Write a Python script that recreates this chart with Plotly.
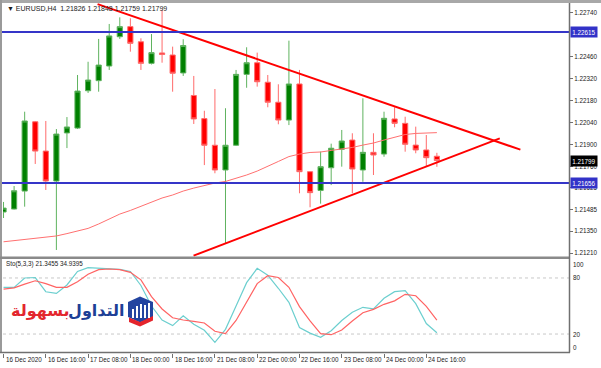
import plotly.graph_objects as go

# ---------------- data ----------------
bar_index = list(range(42))
open_ = [1.21472, 1.21491, 1.21605, 1.22045, 1.21859, 1.21669, 1.21974, 1.22005, 1.22242, 1.22306,
         1.22399, 1.22585, 1.22649, 1.22553, 1.22416, 1.22482, 1.22469, 1.22355, 1.22212, 1.22065,
         1.21896, 1.21739, 1.21896, 1.22346, 1.22420, 1.22296, 1.22169, 1.22056, 1.22285, 1.21728,
         1.21609, 1.21753, 1.21870, 1.21929, 1.21739, 1.21851, 1.21840, 1.22063, 1.22035, 1.21897,
         1.21866, 1.21826]
high = [1.21536, 1.21637, 1.22109, 1.22050, 1.22050, 1.21999, 1.22075, 1.22342, 1.22426, 1.22571,
        1.22666, 1.22708, 1.22702, 1.22575, 1.22602, 1.22755, 1.22522, 1.22569, 1.22336, 1.22115,
        1.22253, 1.22131, 1.22374, 1.22518, 1.22484, 1.22342, 1.22283, 1.22560, 1.22374, 1.21730,
        1.21856, 1.21906, 1.21993, 1.21972, 1.22194, 1.21972, 1.22109, 1.22137, 1.22077, 1.22014,
        1.21961, 1.21848]
low = [1.21434, 1.21488, 1.21506, 1.21777, 1.21612, 1.21231, 1.21878, 1.21999, 1.22228, 1.22236,
       1.22374, 1.22571, 1.22490, 1.22374, 1.22409, 1.22420, 1.22236, 1.22336, 1.22031, 1.21770,
       1.21718, 1.21275, 1.21891, 1.22261, 1.22268, 1.22137, 1.22029, 1.22024, 1.21591, 1.21502,
       1.21525, 1.21643, 1.21760, 1.21591, 1.21664, 1.21707, 1.21823, 1.22010, 1.21855, 1.21845,
       1.21764, 1.21759]
close = [1.21497, 1.21607, 1.22050, 1.21859, 1.21669, 1.21967, 1.22012, 1.22240, 1.22310, 1.22405,
         1.22590, 1.22649, 1.22543, 1.22416, 1.22484, 1.22472, 1.22353, 1.22529, 1.22063, 1.21896,
         1.21739, 1.21896, 1.22346, 1.22420, 1.22299, 1.22169, 1.22056, 1.22285, 1.21728, 1.21595,
         1.21760, 1.21877, 1.21923, 1.21745, 1.21851, 1.21834, 1.22067, 1.22035, 1.21902, 1.21866,
         1.21817, 1.21799]
moving_avg = [1.21283, 1.21291, 1.21297, 1.21306, 1.21312, 1.21320, 1.21335, 1.21351, 1.21368, 1.21396,
              1.21428, 1.21459, 1.21482, 1.21507, 1.21536, 1.21561, 1.21580, 1.21605, 1.21624, 1.21640,
              1.21656, 1.21666, 1.21685, 1.21707, 1.21732, 1.21760, 1.21793, 1.21824, 1.21840, 1.21850,
              1.21853, 1.21863, 1.21872, 1.21882, 1.21897, 1.21910, 1.21929, 1.21948, 1.21964, 1.21971,
              1.21974, 1.21976]
sto_main = [70, 70, 80, 80.5, 65.3, 63.5, 72.5, 87, 91, 90.5,
            90, 89.3, 87, 72, 50, 35, 29, 39.5, 30.5, 24,
            11, 25, 50, 75, 90.4, 83, 69, 54, 27, 21,
            16.5, 23.5, 34.5, 43.3, 48.6, 47, 58.3, 65.4, 66.4, 52.5,
            31.2, 21.3455]
sto_signal = [68, 69.5, 73.5, 77, 74, 70, 70, 76, 84, 89,
              89.6, 89, 86, 78, 60, 46.8, 37.4, 35, 33.5, 31.8,
              23, 20.5, 34.5, 55, 74, 82.5, 80.5, 70, 49.3, 34,
              20.5, 19.3, 24.3, 34, 42.8, 46.4, 51.8, 55.5, 62.5, 61,
              49.6, 34.9395]

# 1.22600 is hidden behind the 1.22615 line label in the reference
price_ticks = [1.22740, 1.22460, 1.22320, 1.22180, 1.22040, 1.21900, 1.21760,
               1.21625, 1.21485, 1.21350, 1.21210]
price_tick_text = ["1.22740", "1.22460", "1.22320", "1.22180", "1.22040", "1.21900",
                   "1.21760", "1.21625", "1.21485", "1.21350", "1.21210"]
date_tick_idx = [0, 4, 8, 12, 16, 20, 24, 28, 32, 36, 40]
date_tick_text = ["16 Dec 2020", "16 Dec 16:00", "17 Dec 08:00", "18 Dec 00:00", "18 Dec 16:00",
                  "21 Dec 08:00", "22 Dec 00:00", "22 Dec 16:00", "23 Dec 08:00", "24 Dec 00:00",
                  "24 Dec 16:00"]
resistance = 1.22615
support = 1.21656
last_close = 1.21799
upper_trend_x = [8.9, 48.9]
upper_trend_y = [1.22792, 1.21868]
lower_trend_x = [17.98, 46.95]
lower_trend_y = [1.21195, 1.21940]
sto_levels = [80, 20]
sto_axis_labels = [100, 80, 20, 0]
header_text = "EURUSD,H4  1.21826 1.21848 1.21759 1.21799"
sto_text = "Sto(5,3,3) 21.3455 34.9395"

# ---------------- layout geometry ----------------
W, H = 601, 368
ML, MR, MT, MB = 3, 32, 3, 15
PW, PH = W - ML - MR, H - MT - MB


def xp(px):
    return (px - ML) / PW


def yp(py):
    return (H - MB - py) / PH


FONT = "Liberation Sans, Arial, sans-serif"
TXT = "#1a1a1a"
AXC = "#707070"

fig = go.Figure()

fig.add_trace(go.Candlestick(
    x=bar_index, open=open_, high=high, low=low, close=close,
    increasing=dict(line=dict(color="#5fb35f", width=1), fillcolor="#008000"),
    decreasing=dict(line=dict(color="#ff6b6b", width=1), fillcolor="#ff0000"),
    whiskerwidth=0, xaxis="x", yaxis="y", hoverinfo="skip"))

fig.add_trace(go.Scatter(x=bar_index, y=moving_avg, mode="lines",
                         line=dict(color="#ff7070", width=1), xaxis="x", yaxis="y", hoverinfo="skip"))
fig.add_trace(go.Scatter(x=upper_trend_x, y=upper_trend_y, mode="lines",
                         line=dict(color="#ff0000", width=2), xaxis="x", yaxis="y", hoverinfo="skip"))
fig.add_trace(go.Scatter(x=lower_trend_x, y=lower_trend_y, mode="lines",
                         line=dict(color="#ff0000", width=2), xaxis="x", yaxis="y", hoverinfo="skip"))

fig.add_trace(go.Scatter(x=bar_index, y=sto_main, mode="lines",
                         line=dict(color="#6ccfcf", width=1.2), xaxis="x", yaxis="y2", hoverinfo="skip"))
fig.add_trace(go.Scatter(x=bar_index, y=sto_signal, mode="lines",
                         line=dict(color="#ff6464", width=1.2), xaxis="x", yaxis="y2", hoverinfo="skip"))

shapes = []
for lvl in (resistance, support):
    shapes.append(dict(type="line", xref="paper", yref="y", x0=xp(0), x1=1, y0=lvl, y1=lvl,
                       line=dict(color="#3535c8", width=2), layer="above"))
for lv in sto_levels:
    shapes.append(dict(type="line", xref="paper", yref="y2", x0=0, x1=1, y0=lv, y1=lv,
                       line=dict(color="#c8c8c8", width=1, dash="dot"), layer="below"))
shapes += [
    dict(type="rect", xref="paper", yref="paper", x0=xp(0), x1=xp(W), y0=yp(0), y1=yp(3),
         fillcolor="#a8a8a8", line=dict(width=0)),
    dict(type="rect", xref="paper", yref="paper", x0=xp(0), x1=xp(2), y0=yp(353), y1=yp(0),
         fillcolor="#9a9a9a", line=dict(width=0)),
    dict(type="rect", xref="paper", yref="paper", x0=xp(0), x1=xp(570), y0=yp(259), y1=yp(256.5),
         fillcolor="#8a8a8a", line=dict(width=0)),
    dict(type="line", xref="paper", yref="paper", x0=xp(0), x1=xp(570), y0=yp(352.5), y1=yp(352.5),
         line=dict(color=AXC, width=1.5)),
    dict(type="line", xref="paper", yref="paper", x0=xp(569.5), x1=xp(569.5), y0=yp(352.5), y1=yp(3),
         line=dict(color=AXC, width=1.5)),
]

# logo icon (decoration)
hexa = [(128, 302), (140, 296.5), (153, 302), (153, 317), (140, 322.5), (128, 317)]
path = "M " + " L ".join(f"{xp(a)},{yp(b)}" for a, b in hexa) + " Z"
shapes.append(dict(type="path", xref="paper", yref="paper", path=path,
                   fillcolor="#2344a0", line=dict(width=0)))
red_part = [(129, 317.5), (140, 322), (153, 316), (153, 320.5), (140, 326.5), (129, 322)]
path = "M " + " L ".join(f"{xp(a)},{yp(b)}" for a, b in red_part) + " Z"
shapes.append(dict(type="path", xref="paper", yref="paper", path=path,
                   fillcolor="#e4242c", line=dict(width=0)))
for bx, top in [(133, 309), (137, 306), (141, 304), (145, 305), (149, 303)]:
    shapes.append(dict(type="line", xref="paper", yref="paper", x0=xp(bx), x1=xp(bx),
                       y0=yp(318), y1=yp(top), line=dict(color="white", width=2)))

ann = []
ann.append(dict(xref="paper", yref="paper", x=xp(5), y=yp(8.5), xanchor="left", yanchor="middle",
                text="▼ " + header_text, showarrow=False, font=dict(family=FONT, size=7, color=TXT)))
ann.append(dict(xref="paper", yref="paper", x=xp(4), y=yp(264), xanchor="left", yanchor="middle",
                text=sto_text, showarrow=False, font=dict(family=FONT, size=6.3, color=TXT)))
for idx, t in zip(date_tick_idx, date_tick_text):
    ann.append(dict(xref="x", yref="paper", x=idx, y=yp(359), xanchor="left", yanchor="middle",
                    xshift=0, text=t, showarrow=False, font=dict(family=FONT, size=6.3, color=TXT)))
for v in sto_axis_labels:
    anc = "top" if v == 100 else ("bottom" if v == 0 else "middle")
    ann.append(dict(xref="paper", yref="y2", x=xp(571), y=v, xanchor="left", yanchor=anc,
                    text=str(v), showarrow=False, font=dict(family=FONT, size=6.3, color=TXT)))
for v, bg in [(resistance, "#3232c8"), (last_close, "#000000"), (support, "#3232c8")]:
    ann.append(dict(xref="paper", yref="y", x=xp(570), y=v, xanchor="left", yanchor="middle",
                    text=f"{v:.5f}", showarrow=False, bgcolor=bg, borderpad=1, width=24, height=8,
                    font=dict(family=FONT, size=6.3, color="white")))
ann.append(dict(xref="paper", yref="paper", x=xp(40), y=yp(310), xanchor="center", yanchor="middle",
                text="<b>بسهولة</b>", showarrow=False,
                font=dict(family="DejaVu Sans", size=16, color="#e3262e")))
ann.append(dict(xref="paper", yref="paper", x=xp(97), y=yp(310), xanchor="center", yanchor="middle",
                text="<b>التداول</b>", showarrow=False,
                font=dict(family="DejaVu Sans", size=16, color="#1d3f96")))

main_bottom = yp(257)
sto_top = yp(259.3)

fig.update_layout(
    width=W, height=H, margin=dict(l=ML, r=MR, t=MT, b=MB),
    paper_bgcolor="white", plot_bgcolor="white", showlegend=False, hovermode=False,
    xaxis=dict(anchor="y2", range=[-0.05, 53.5], showgrid=False, zeroline=False,
               tickvals=date_tick_idx, ticks="outside", ticklen=4, tickcolor=AXC,
               showticklabels=False, rangeslider=dict(visible=False), showline=False),
    yaxis=dict(domain=[main_bottom, 1], range=[1.211864, 1.227991], side="right",
               showgrid=False, zeroline=False, tickvals=price_ticks, ticktext=price_tick_text,
               ticks="outside", ticklen=3, tickcolor=AXC,
               tickfont=dict(family=FONT, size=6.3, color=TXT)),
    yaxis2=dict(domain=[0, sto_top], range=[-0.3, 100], side="right", showgrid=False,
                zeroline=False, showticklabels=False),
    shapes=shapes, annotations=ann,
)

fig.write_html("out.html", config={"displayModeBar": False},
               post_script="document.body.style.margin='0';document.body.style.overflow='hidden';")
